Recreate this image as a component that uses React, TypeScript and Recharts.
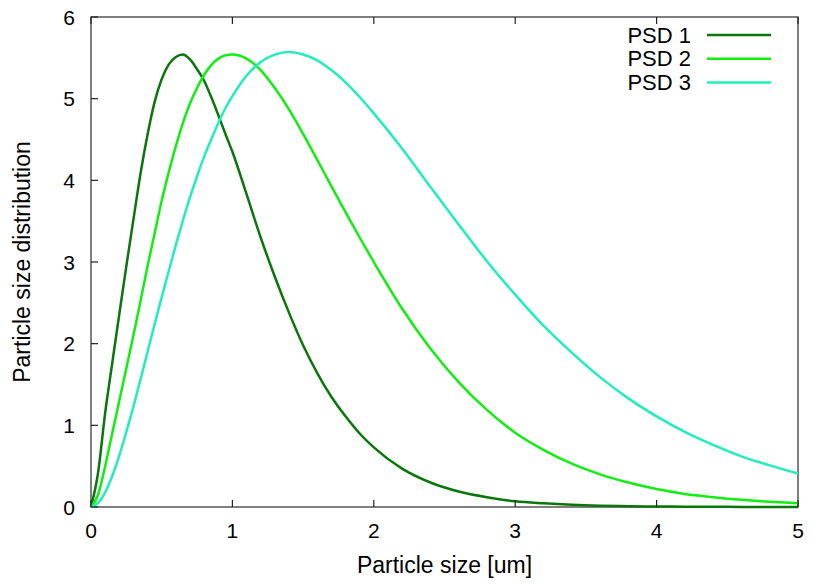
import { LineChart, Line, XAxis, YAxis, Legend, ReferenceArea } from 'recharts';

// particle size [um]
const sizes = [
  0, 0.05, 0.1, 0.15, 0.2, 0.25, 0.3, 0.35, 0.4, 0.45, 0.5, 0.55, 0.6, 0.65, 0.7, 0.75, 0.8, 0.85, 0.9, 0.95, 1.0,
  1.1, 1.2, 1.3, 1.4, 1.5, 1.6, 1.7, 1.8, 1.9, 2.0,
  2.2, 2.4, 2.6, 2.8, 3.0, 3.2, 3.4, 3.6, 3.8, 4.0, 4.2, 4.4, 4.6, 4.8, 5.0,
];

const psd1 = [
  0, 0.42, 1.15, 1.76, 2.36, 2.95, 3.52, 4.08, 4.56, 4.96, 5.24, 5.42, 5.51, 5.54, 5.48, 5.36, 5.22, 5.02, 4.8, 4.57, 4.35,
  3.83, 3.3, 2.82, 2.38, 1.98, 1.64, 1.35, 1.11, 0.9, 0.73,
  0.47, 0.3, 0.19, 0.12, 0.07, 0.045, 0.027, 0.016, 0.01, 0.006, 0.004, 0.002, 0.0015, 0.001, 0.0005,
];

const psd2 = [
  0, 0.15, 0.5, 0.9, 1.3, 1.7, 2.1, 2.52, 2.95, 3.35, 3.75, 4.1, 4.42, 4.7, 4.94, 5.13, 5.29, 5.41, 5.49, 5.53, 5.54,
  5.49, 5.35, 5.13, 4.87, 4.57, 4.25, 3.93, 3.61, 3.3, 3.0,
  2.43, 1.94, 1.53, 1.19, 0.91, 0.7, 0.53, 0.4, 0.3, 0.22, 0.16, 0.12, 0.088, 0.064, 0.046,
];

const psd3 = [
  0, 0.05, 0.18, 0.38, 0.63, 0.92, 1.23, 1.56, 1.9, 2.24, 2.57, 2.89, 3.21, 3.51, 3.79, 4.05, 4.29, 4.5, 4.7, 4.88, 5.03,
  5.28, 5.45, 5.54, 5.57, 5.54, 5.47, 5.35, 5.2, 5.02, 4.82,
  4.39, 3.92, 3.46, 3.01, 2.6, 2.22, 1.89, 1.59, 1.33, 1.11, 0.92, 0.76, 0.62, 0.51, 0.41,
];

const xTicks = [0, 1, 2, 3, 4, 5];
const yTicks = [0, 1, 2, 3, 4, 5, 6];

const FONT = '"Liberation Sans", Arial, Helvetica, sans-serif';

// plot frame in pixels (gnuplot-style box with inward ticks)
const LEFT = 91;
const RIGHT = 798;
const TOP = 17;
const BOTTOM = 507;
const TICK = 7;

const data = sizes.map((x, i) => ({ x, psd1: psd1[i], psd2: psd2[i], psd3: psd3[i] }));

const BottomTick = ({ x, payload }: any) => (
  <g>
    <line x1={x} x2={x} y1={BOTTOM} y2={BOTTOM - TICK} stroke="#222" strokeWidth={1.2} />
    <text x={x} y={530} textAnchor="middle" dominantBaseline="central" fontSize={21} fontFamily={FONT} fill="#000">
      {payload.value}
    </text>
  </g>
);

const TopTick = ({ x }: any) => (
  <line x1={x} x2={x} y1={TOP} y2={TOP + TICK} stroke="#222" strokeWidth={1.2} />
);

const LeftTick = ({ y, payload }: any) => (
  <g>
    <line x1={LEFT} x2={LEFT + TICK} y1={y} y2={y} stroke="#222" strokeWidth={1.2} />
    <text x={75} y={y} textAnchor="end" dominantBaseline="central" fontSize={21} fontFamily={FONT} fill="#000">
      {payload.value}
    </text>
  </g>
);

const RightTick = ({ y }: any) => (
  <line x1={RIGHT} x2={RIGHT - TICK} y1={y} y2={y} stroke="#222" strokeWidth={1.2} />
);

const PsdLegend = ({ payload }: any) => (
  <svg width={813} height={100} style={{ display: 'block' }}>
    {(payload || []).map((p: any, i: number) => {
      const y = 35 + i * 23.8;
      return (
        <g key={p.value}>
          <text x={691} y={y} textAnchor="end" dominantBaseline="central" fontSize={22} fontFamily={FONT} fill="#000">
            {p.value}
          </text>
          <line x1={707} x2={771} y1={y} y2={y} stroke={p.color} strokeWidth={2.5} />
        </g>
      );
    })}
  </svg>
);

const XLabel = () => (
  <text x={444.5} y={565} textAnchor="middle" dominantBaseline="central" fontSize={23} fontFamily={FONT} fill="#000">
    Particle size [um]
  </text>
);

const YLabel = () => (
  <text
    x={22}
    y={262}
    textAnchor="middle"
    dominantBaseline="central"
    fontSize={23}
    fontFamily={FONT}
    fill="#000"
    transform="rotate(-90 22 262)"
  >
    Particle size distribution
  </text>
);

export default function App() {
  return (
    <div style={{ width: 813, height: 584, background: '#fff' }}>
      <style>{'body{margin:0}'}</style>
      <LineChart width={813} height={584} data={data} margin={{ top: 16, right: 14, bottom: 0, left: 0 }}>
        <XAxis
          dataKey="x"
          type="number"
          domain={[0, 5]}
          ticks={xTicks}
          tickLine={false}
          axisLine={false}
          height={77}
          tick={<BottomTick />}
          label={{ content: XLabel }}
        />
        <XAxis
          xAxisId="top"
          orientation="top"
          type="number"
          dataKey="x"
          domain={[0, 5]}
          ticks={xTicks}
          tickLine={false}
          axisLine={false}
          height={1}
          tick={<TopTick />}
        />
        <YAxis
          type="number"
          domain={[0, 6]}
          ticks={yTicks}
          tickLine={false}
          axisLine={false}
          width={91}
          tick={<LeftTick />}
          label={{ content: YLabel }}
        />
        <YAxis
          yAxisId="right"
          orientation="right"
          type="number"
          domain={[0, 6]}
          ticks={yTicks}
          tickLine={false}
          axisLine={false}
          width={1}
          tick={<RightTick />}
        />
        <ReferenceArea x1={0} x2={5} y1={0} y2={6} fill="none" stroke="#555" strokeWidth={1.5} ifOverflow="visible" />
        <Legend
          layout="vertical"
          align="center"
          verticalAlign="middle"
          wrapperStyle={{ left: 0, top: 0, width: 813, height: 100, pointerEvents: 'none' }}
          content={PsdLegend}
        />
        <Line type="monotone" dataKey="psd1" name="PSD 1" stroke="#0b760b" strokeWidth={2.5} dot={false} isAnimationActive={false} />
        <Line type="monotone" dataKey="psd2" name="PSD 2" stroke="#11ee11" strokeWidth={2.5} dot={false} isAnimationActive={false} />
        <Line type="monotone" dataKey="psd3" name="PSD 3" stroke="#22eebb" strokeWidth={2.5} dot={false} isAnimationActive={false} />
      </LineChart>
    </div>
  );
}
